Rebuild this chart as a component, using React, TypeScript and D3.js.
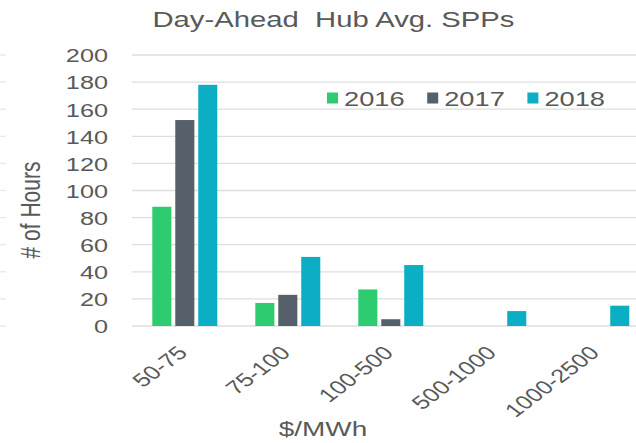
import React from 'react';
import * as d3 from 'd3';

const categories = ['50-75', '75-100', '100-500', '500-1000', '1000-2500'];
const seriesNames = ['2016', '2017', '2018'];
const values2016 = [88, 17, 27, 0, 0];
const values2017 = [152, 23, 5, 0, 0];
const values2018 = [178, 51, 45, 11, 15];
const yTicks = [0, 20, 40, 60, 80, 100, 120, 140, 160, 180, 200];
const seriesColors = ['#2ECC71', '#56606A', '#0CAEC3'];

const TITLE = 'Day-Ahead  Hub Avg. SPPs';
const Y_TITLE = '# of Hours';
const X_TITLE = '$/MWh';

const W = 636;
const H = 443;
const SX = 1.33; // horizontal stretch of the source image
const TEXT = '#595959';
const GRID = '#DEDEDE';
const FONT = 'Arial, "Liberation Sans", Helvetica, sans-serif';

export default function App() {
  const series = [values2016, values2017, values2018];
  const x = d3.scaleBand<string>().domain(categories).range([133.3, 648.3]).paddingInner(0.369).paddingOuter(0.1845);
  const xi = d3.scaleBand<string>().domain(seriesNames).range([0, x.bandwidth()]).paddingInner(0.17);
  const y = d3.scaleLinear().domain([0, 200]).range([326, 55]);

  return (
    <svg
      width={W}
      height={H}
      style={{ position: 'absolute', left: 0, top: 0, background: '#fff', fontFamily: FONT }}
    >
      <rect x={0} y={0} width={W} height={H} fill="#fff" />
      {/* title */}
      <text
        transform={`translate(333.5,27) scale(${SX},1)`}
        textAnchor="middle"
        fontSize={22}
        fill={TEXT}
        style={{ whiteSpace: 'pre' }}
      >
        {TITLE}
      </text>
      {/* gridlines */}
      {yTicks.map((t) => (
        <g key={t}>
          <line x1={132} x2={W} y1={y(t)} y2={y(t)} stroke={GRID} strokeWidth={1.3} />
          <line x1={0} x2={6} y1={y(t)} y2={y(t)} stroke="#E8E8E8" strokeWidth={1.3} />
        </g>
      ))}
      {/* y tick labels */}
      {yTicks.map((t) => (
        <text
          key={'l' + t}
          transform={`translate(108,${y(t) + 7.3}) scale(${SX},1)`}
          textAnchor="end"
          fontSize={19}
          fill={TEXT}
        >
          {t}
        </text>
      ))}
      {/* bars */}
      {categories.map((c, ci) => (
        <g key={c} transform={`translate(${x(c)},0)`}>
          {seriesNames.map((s, si) => {
            const v = series[si][ci];
            if (!v) return null;
            return (
              <rect
                key={s}
                x={xi(s)}
                y={y(v)}
                width={xi.bandwidth()}
                height={y(0) - y(v)}
                fill={seriesColors[si]}
              />
            );
          })}
        </g>
      ))}
      {/* x tick labels */}
      {categories.map((c) => {
        const cx = (x(c) as number) + x.bandwidth() / 2;
        return (
          <text
            key={'x' + c}
            transform={`translate(${cx + 4},354) scale(${SX},1) rotate(-45)`}
            textAnchor="end"
            fontSize={19}
            fill={TEXT}
          >
            {c}
          </text>
        );
      })}
      {/* axis titles */}
      <text
        transform={`translate(323,436) scale(${SX},1)`}
        textAnchor="middle"
        fontSize={21}
        fill={TEXT}
      >
        {X_TITLE}
      </text>
      <text
        transform={`translate(30,210) scale(${SX},1) rotate(-90)`}
        textAnchor="middle"
        dy="0.35em"
        fontSize={21}
        fill={TEXT}
      >
        {Y_TITLE}
      </text>
      {/* legend */}
      {seriesNames.map((s, si) => {
        const lx = 327 + si * 100.2;
        return (
          <g key={'lg' + s}>
            <rect x={lx} y={92.5} width={11} height={11} fill={seriesColors[si]} />
            <text
              transform={`translate(${lx + 17},106) scale(${SX},1)`}
              fontSize={20.5}
              fill={TEXT}
            >
              {s}
            </text>
          </g>
        );
      })}
    </svg>
  );
}
